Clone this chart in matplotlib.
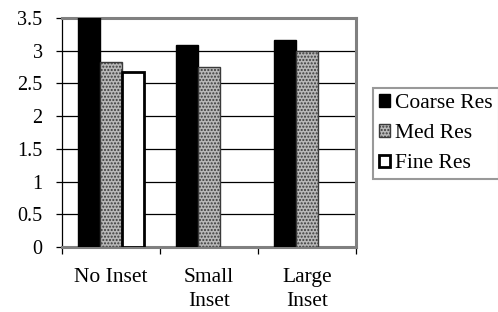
import numpy as np
import matplotlib.pyplot as plt

plt.rcParams['font.family'] = ['Liberation Serif', 'DejaVu Serif']
plt.rcParams['hatch.linewidth'] = 1.0

groups = ['No Inset', 'Small\nInset', 'Large\nInset']
series = ['Coarse Res', 'Med Res', 'Fine Res']
coarse = [3.6, 3.08, 3.17]
med = [2.83, 2.75, 2.99]
fine = [2.67, np.nan, np.nan]

fs = 14.5

fig = plt.figure(figsize=(4.98, 3.12), dpi=100)
ax = fig.add_axes([0.1245, 0.2083, 0.5904, 0.734])

x = np.arange(len(groups))
w = 0.225
ax.bar(x - w, coarse, w, color='black', edgecolor='black', linewidth=1, label=series[0], zorder=3)
ax.bar(x, med, w, color='#b8b8b8', edgecolor='#3a3a3a', hatch='.....', linewidth=1, label=series[1], zorder=3)
ax.bar(x + w, fine, w, color='white', edgecolor='black', linewidth=2, label=series[2], zorder=3)

ax.set_ylim(0, 3.5)
ax.set_xlim(-0.5, 2.5)
ax.set_yticks(np.arange(0, 3.51, 0.5))
ax.set_yticklabels(['0', '0.5', '1', '1.5', '2', '2.5', '3', '3.5'], fontsize=fs)
ax.yaxis.grid(True, color='black', linewidth=0.9, zorder=0)
ax.set_axisbelow(True)

ax.set_xticks([-0.5, 0.5, 1.5, 2.5])
ax.set_xticklabels([])
ax.set_xticks(x, minor=True)
ax.set_xticklabels(groups, minor=True, fontsize=15.5, linespacing=1.35)
ax.tick_params(axis='x', which='minor', length=0, pad=15)
ax.tick_params(axis='x', which='major', length=5, direction='out', width=0.9)
ax.tick_params(axis='y', length=4, direction='out', width=0.9, pad=10)

for s in ['top', 'right', 'bottom']:
    ax.spines[s].set_color('#808080')
    ax.spines[s].set_linewidth(2.2)
ax.spines['left'].set_color('black')
ax.spines['left'].set_linewidth(0.9)

leg = ax.legend(loc='upper left', bbox_to_anchor=(373 / 498, 1 - 88 / 312), bbox_transform=fig.transFigure,
                prop={'size': 15.5}, frameon=True, fancybox=False, edgecolor='#808080',
                handlelength=0.5, handleheight=0.5, handletextpad=0.25,
                labelspacing=0.52, borderpad=0.28, borderaxespad=0)
leg.get_frame().set_linewidth(1.5)

fig.savefig('out.png', dpi=100)
